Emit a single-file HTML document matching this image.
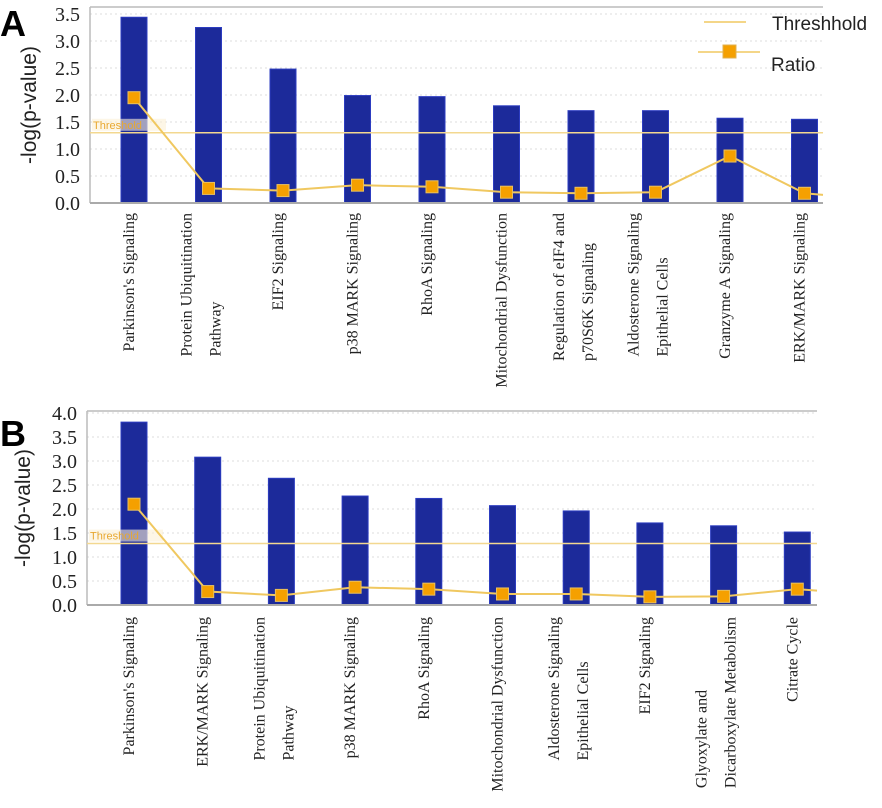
<!DOCTYPE html>
<html><head><meta charset="utf-8"><style>
html,body{margin:0;padding:0;background:#fff;width:882px;height:808px;overflow:hidden}
svg text{font-family:"Liberation Serif",serif}
</style></head><body>
<svg id="svg" width="882" height="808" viewBox="0 0 882 808" xmlns="http://www.w3.org/2000/svg">
<text x="0" y="36" font-weight="bold" font-size="36" style="font-family:'Liberation Sans',sans-serif">A</text>
<text x="0" y="446" font-weight="bold" font-size="36" style="font-family:'Liberation Sans',sans-serif">B</text>
<g>
<line x1="704" y1="22" x2="746" y2="22" stroke="#f0c860" stroke-width="1.5"/>
<text x="772" y="30" font-size="19" style="font-family:'Liberation Sans',sans-serif" fill="#222">Threshhold</text>
<line x1="698" y1="52" x2="760" y2="52" stroke="#f0c860" stroke-width="1.5"/>
<rect x="723" y="45" width="13" height="13" fill="#f5a000" stroke="#e0b050"/>
<text x="771" y="71" font-size="19" style="font-family:'Liberation Sans',sans-serif" fill="#222">Ratio</text>
</g>
</svg>
<script>
const catsA=[["Parkinson's Signaling"],["Protein Ubiquitination","Pathway"],["EIF2 Signaling"],["p38 MARK Signaling"],["RhoA Signaling"],["Mitochondrial Dysfunction"],["Regulation of eIF4 and","p70S6K Signaling"],["Aldosterone Signaling","Epithelial Cells"],["Granzyme A Signaling"],["ERK/MARK Signaling"]];
const pvalA=[3.44,3.25,2.48,1.99,1.97,1.8,1.71,1.71,1.57,1.55];
const ratioA=[1.95,0.27,0.23,0.33,0.3,0.2,0.18,0.2,0.87,0.18];
const ticksA=["0.0","0.5","1.0","1.5","2.0","2.5","3.0","3.5"];
const thrA=1.3;
const catsB=[["Parkinson's Signaling"],["ERK/MARK Signaling"],["Protein Ubiquitination","Pathway"],["p38 MARK Signaling"],["RhoA Signaling"],["Mitochondrial Dysfunction"],["Aldosterone Signaling","Epithelial Cells"],["EIF2 Signaling"],["Glyoxylate and","Dicarboxylate Metabolism"],["Citrate Cycle"]];
const pvalB=[3.81,3.08,2.64,2.27,2.22,2.07,1.96,1.71,1.65,1.52];
const ratioB=[2.1,0.28,0.2,0.37,0.33,0.23,0.23,0.17,0.18,0.33];
const ticksB=["0.0","0.5","1.0","1.5","2.0","2.5","3.0","3.5","4.0"];
const thrB=1.28;
const NS="http://www.w3.org/2000/svg";
const svg=document.getElementById('svg');
function mk(tag,at,parent){const e=document.createElementNS(NS,tag);for(const k in at)e.setAttribute(k,at[k]);(parent||svg).appendChild(e);return e;}
function chart(cfg,cats,pv,ra,ticks,thr,id){
  const g=mk('g',{});
  
  
  const y=v=>cfg.y0-v*cfg.ppu;
  const x=i=>cfg.x1+cfg.step*i;
  ticks.forEach(t=>{const v=parseFloat(t);
    if(v>0){const l=mk('line',{x1:cfg.ax,x2:cfg.right,y1:y(v),y2:y(v),stroke:'#ddd','stroke-dasharray':'2,3'},g);
    
    }
    const tx=mk('text',{x:cfg.ax-10,y:y(v)+7,'text-anchor':'end','font-size':20,fill:'#222'},g);
    tx.textContent=t;
    
    
  });
  const top=mk('line',{x1:cfg.ax,x2:cfg.right,y1:cfg.top,y2:cfg.top,stroke:'#ccc','stroke-width':2},g);
  
  
  const ya=mk('line',{x1:cfg.ax,x2:cfg.ax,y1:cfg.top,y2:cfg.y0,stroke:'#bbb','stroke-width':1.5},g);
  
  
  const t=mk('text',{transform:`translate(${cfg.titleX},${(cfg.top+cfg.y0)/2}) rotate(-90)`,'text-anchor':'middle','font-size':21,fill:'#222',style:"font-family:'Liberation Sans',sans-serif"},g);
  t.textContent='-log(p-value)';
  
  
  pv.forEach((v,i)=>{const b=mk('rect',{x:x(i)-13,y:y(v),width:26,height:y(0)-y(v),fill:'#1c2a9a',stroke:'#2c3cc0'},g);
    
    });
  const th=mk('line',{x1:cfg.ax,x2:cfg.right,y1:y(thr),y2:y(thr),stroke:'#f3d890','stroke-width':1.5},g);
  
  
  const tb=mk('rect',{x:cfg.ax+2,y:y(thr)-14,width:74,height:12,fill:'#fbf0d6','fill-opacity':0.6},g);
  
  
  const tl=mk('text',{x:cfg.ax+3,y:y(thr)-4,'font-size':11,fill:'#e8a830',style:"font-family:'Liberation Sans',sans-serif"},g);
  tl.textContent='Threshold';
  
  
  const xa=mk('line',{x1:cfg.ax,x2:cfg.right,y1:cfg.y0,y2:cfg.y0,stroke:'#aaa','stroke-width':2},g);
  
  
  let pts=ra.map((v,i)=>x(i)+','+y(v));
  pts.push(cfg.right+','+y(ra[ra.length-1]-0.03));
  const pl=mk('polyline',{points:pts.join(' '),fill:'none',stroke:'#f0c860','stroke-width':2},g);
  
  
  ra.forEach((v,i)=>{const m=mk('rect',{x:x(i)-6,y:y(v)-6,width:12,height:12,fill:'#f5a000',stroke:'#e8c060'},g);
    
    });
  cats.forEach((c,i)=>{
    const lg=mk('g',{},g);
    
    
    if(c.length===1){
      const tx=mk('text',{transform:`translate(${x(i)},${cfg.labTop}) rotate(-90)`,'text-anchor':'end','font-size':16,fill:'#222'},lg);
      tx.textContent=c[0];
    } else {
      const els=c.map((s,k)=>{const tx=mk('text',{'font-size':16,fill:'#222'},lg);tx.textContent=s;return tx;});
      const mx=Math.max(...els.map(e=>e.getComputedTextLength()));
      els.forEach((e,k)=>{const bx=x(i)+(k===0?-17:12);
        e.setAttribute('transform',`translate(${bx},${cfg.labTop+mx}) rotate(-90)`);});
    }
  });
}
chart({y0:203,ppu:54,ax:90,right:823,top:7,x1:134,step:74.5,labTop:213,titleX:36},catsA,pvalA,ratioA,ticksA,thrA,'chart-a');
chart({y0:605,ppu:48,ax:87,right:817,top:411,x1:134,step:73.7,labTop:617,titleX:30},catsB,pvalB,ratioB,ticksB,thrB,'chart-b');
</script>
</body></html>
